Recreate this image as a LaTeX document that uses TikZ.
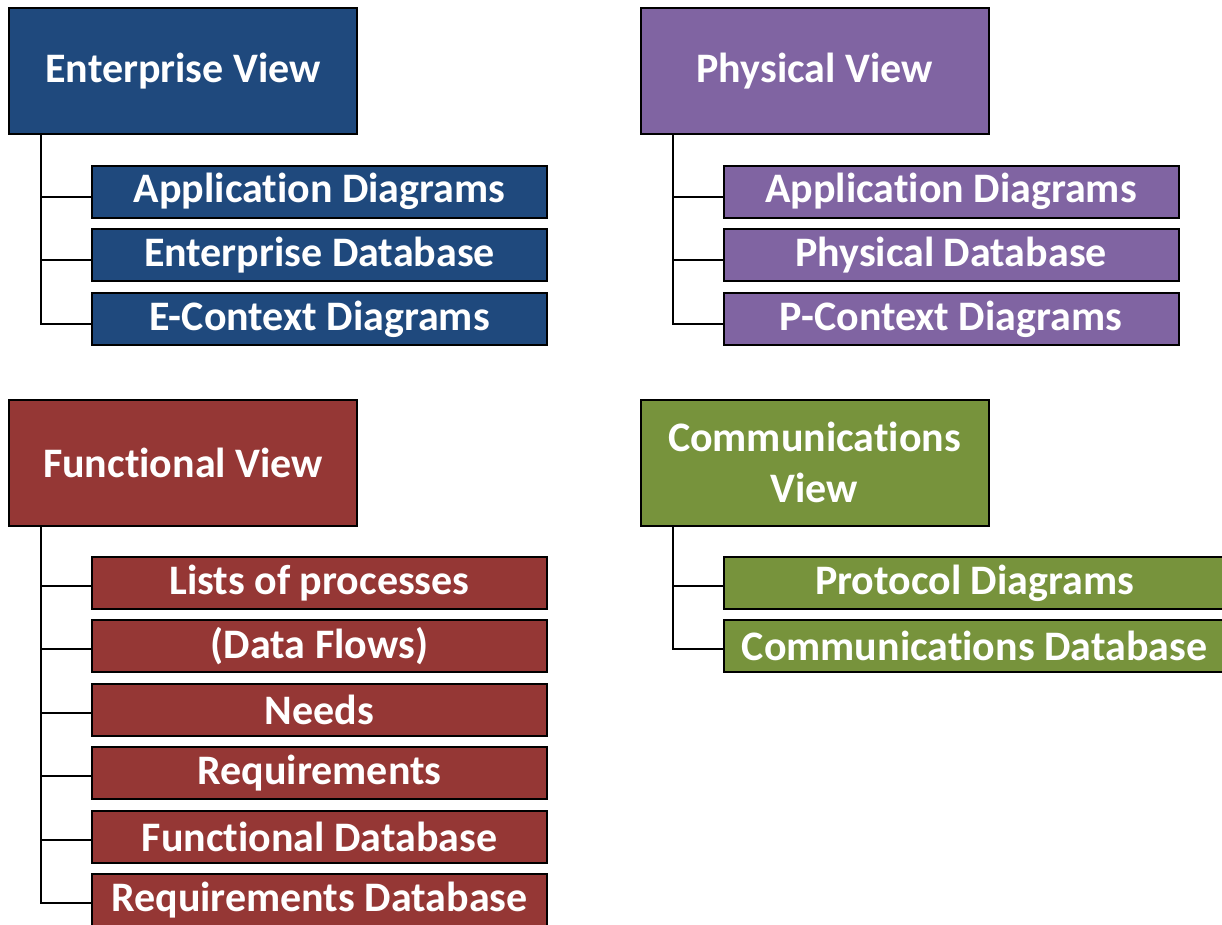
\documentclass[tikz,border=0pt]{standalone}
\usepackage{fontspec}
\setmainfont{Carlito}[Ligatures=NoCommon]
\definecolor{cblue}{HTML}{1F497D}
\definecolor{cpurple}{HTML}{8064A2}
\definecolor{cred}{HTML}{953735}
\definecolor{cgreen}{HTML}{77933C}
\begin{document}
\begin{tikzpicture}[x=1pt,y=-1pt,
  box/.style={draw=black,line width=2pt,text=white,font=\bfseries\fontsize{42}{51}\selectfont,inner sep=0pt,align=center},
  head/.style={box,minimum width=348pt,minimum height=126pt},
  child/.style={box,minimum width=455pt,minimum height=52pt},
  wchild/.style={box,minimum width=501pt,minimum height=52pt},
  conn/.style={draw=black,line width=2pt}]
\useasboundingbox (0,0) rectangle (1222,924);
% Enterprise
\node[head,fill=cblue] (ev) at (183,71) {Enterprise View};
\node[child,fill=cblue] (e1) at (319.5,191.5) {Application Diagrams};
\node[child,fill=cblue] (e2) at (319.5,255) {Enterprise Database};
\node[child,fill=cblue] (e3) at (319.5,319) {E-Context Diagrams};
\coordinate (et) at (41,134);
\draw[conn] (et) |- ([yshift=-5pt]e3.west);
\draw[conn] ([yshift=-5pt]e1.west) -- ++(-51,0);
\draw[conn] ([yshift=-5pt]e2.west) -- ++(-51,0);
% Physical
\node[head,fill=cpurple] (pv) at (814.5,71) {Physical View};
\node[child,fill=cpurple] (p1) at (951,191.5) {Application Diagrams};
\node[child,fill=cpurple] (p2) at (951,255) {Physical Database};
\node[child,fill=cpurple] (p3) at (951,319) {P-Context Diagrams};
\coordinate (pt) at (673,134);
\draw[conn] (pt) |- ([yshift=-5pt]p3.west);
\draw[conn] ([yshift=-5pt]p1.west) -- ++(-51,0);
\draw[conn] ([yshift=-5pt]p2.west) -- ++(-51,0);
% Functional
\node[head,fill=cred] (fv) at (183,462.5) {Functional View};
\node[child,fill=cred] (f1) at (319.5,583) {Lists of processes};
\node[child,fill=cred] (f2) at (319.5,646) {(Data Flows)};
\node[child,fill=cred] (f3) at (319.5,710) {Needs};
\node[child,fill=cred] (f4) at (319.5,773) {Requirements};
\node[child,fill=cred] (f5) at (319.5,837) {Functional Database};
\node[child,fill=cred] (f6) at (319.5,900) {Requirements Database};
\coordinate (ft) at (41,526);
\draw[conn] (ft) |- ([yshift=-3pt]f6.west);
\foreach \n in {f1,f2,f3,f4,f5}
  \draw[conn] ([yshift=-3pt]\n.west) -- ++(-51,0);
% Communications
\node[head,fill=cgreen] (cv) at (814.5,462.5) {Communications\\View};
\node[wchild,fill=cgreen] (c1) at (974.5,583) {Protocol Diagrams};
\node[wchild,fill=cgreen] (c2) at (974.5,646) {Communications Database};
\coordinate (ct) at (673,526);
\draw[conn] (ct) |- ([yshift=-3pt]c2.west);
\draw[conn] ([yshift=-3pt]c1.west) -- ++(-51,0);
\end{tikzpicture}
\end{document}
